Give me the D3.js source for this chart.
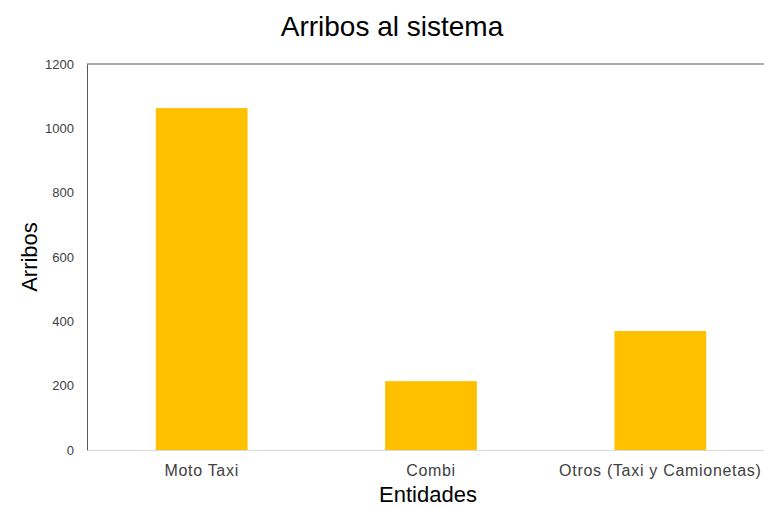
<!DOCTYPE html>
<html>
<head>
<meta charset="utf-8">
<script src="https://cdn.jsdelivr.net/npm/d3@7"></script>
<style>
  body { margin: 0; background: #fff; }
  text { font-family: "Liberation Sans", Arial, sans-serif; }
</style>
</head>
<body>
<svg id="chart" width="764" height="508"></svg>
<script>
// data
const categories = ["Moto Taxi", "Combi", "Otros (Taxi y Camionetas)"];
const arribos = [1063, 214, 370];
const yTicks = [0, 200, 400, 600, 800, 1000, 1200];

const svg = d3.select("#chart");
const plotLeft = 87, plotRight = 775, plotTop = 64, plotBottom = 450;

// scales
const x = d3.scaleBand()
    .domain(categories)
    .range([plotLeft, plotRight])
    .paddingInner(0.6)
    .paddingOuter(0.3);

const y = d3.scaleLinear()
    .domain([0, 1200])
    .range([plotBottom, plotTop]);

// top frame line
svg.append("line")
    .attr("x1", plotLeft).attr("x2", plotRight)
    .attr("y1", y(1200)).attr("y2", y(1200))
    .attr("stroke", "#595959").attr("stroke-width", 1);

// bars
svg.selectAll("rect.bar")
    .data(arribos)
    .enter()
    .append("rect")
    .attr("class", "bar")
    .attr("x", function(d, i) { return x(categories[i]); })
    .attr("width", x.bandwidth())
    .attr("y", function(d) { return y(d); })
    .attr("height", function(d) { return y(0) - y(d); })
    .attr("fill", "#ffc000");

// y axis
const yAxis = svg.append("g")
    .attr("transform", "translate(" + plotLeft + ",0)")
    .call(d3.axisLeft(y).tickValues(yTicks).tickSize(0).tickPadding(13).tickFormat(d3.format("d")));
yAxis.select(".domain").attr("stroke", "#595959");
yAxis.selectAll("text")
    .attr("fill", "#404040")
    .style("font-size", "13px");

// x axis
const xAxis = svg.append("g")
    .attr("transform", "translate(0," + plotBottom + ")")
    .call(d3.axisBottom(x).tickSize(0).tickPadding(15));
xAxis.select(".domain").attr("stroke", "#d9d9d9");
xAxis.selectAll("text")
    .attr("fill", "#404040")
    .style("font-size", "16px")
    .style("letter-spacing", "0.7px");

// titles
svg.append("text")
    .attr("x", 392).attr("y", 36)
    .attr("text-anchor", "middle")
    .style("font-size", "28px")
    .attr("fill", "#000")
    .text("Arribos al sistema");

svg.append("text")
    .attr("x", 428).attr("y", 502)
    .attr("text-anchor", "middle")
    .style("font-size", "22px")
    .attr("fill", "#000")
    .text("Entidades");

svg.append("text")
    .attr("transform", "translate(37,257) rotate(-90)")
    .attr("text-anchor", "middle")
    .style("font-size", "22px")
    .attr("fill", "#000")
    .text("Arribos");
</script>
</body>
</html>
